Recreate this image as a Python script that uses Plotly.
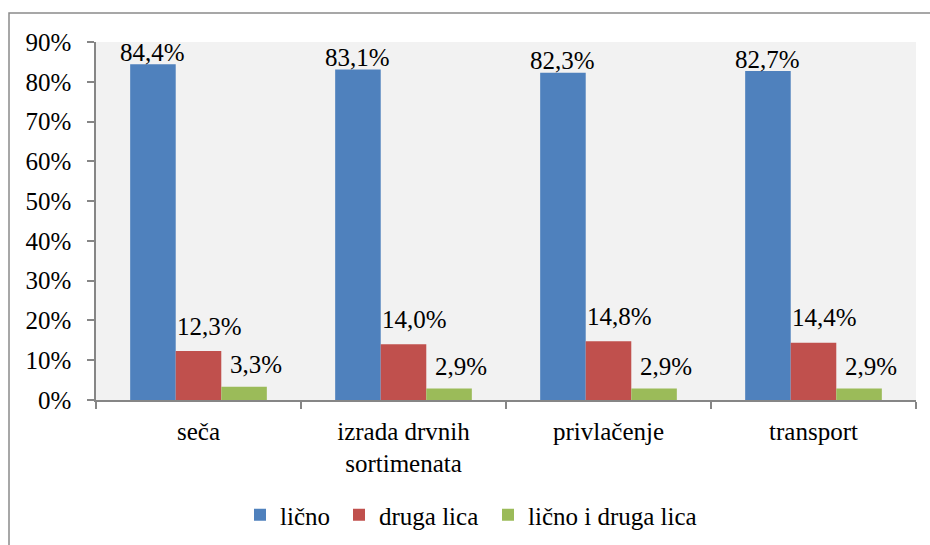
import plotly.graph_objects as go

categories = ["seča", "izrada drvnih<br>sortimenata", "privlačenje", "transport"]
series_names = ["lično", "druga lica", "lično i druga lica"]
licno = [84.4, 83.1, 82.3, 82.7]
druga_lica = [12.3, 14.0, 14.8, 14.4]
licno_i_druga = [3.3, 2.9, 2.9, 2.9]
tick_vals = [0, 10, 20, 30, 40, 50, 60, 70, 80, 90]
tick_text = ["0%", "10%", "20%", "30%", "40%", "50%", "60%", "70%", "80%", "90%"]

colors = ["#4F81BD", "#C0504D", "#9BBB59"]
legend_widths = [54, 104, None]
FONT = "Liberation Serif"
FS = 25
BARGAP = 1 / 3

all_series = [licno, druga_lica, licno_i_druga]
fig = go.Figure()
for name, vals, col, lw in zip(series_names, all_series, colors, legend_widths):
    fig.add_trace(go.Bar(
        name=name, x=categories, y=vals,
        marker=dict(color=col, line=dict(width=0)),
        legendwidth=lw,
    ))

label_dx = [0, 11, 12]
label_dy = [12, 25, 22]
bw = (1 - BARGAP) / 3
for k, vals in enumerate(all_series):
    for i, v in enumerate(vals):
        fig.add_annotation(
            x=i + (k - 1) * bw, y=v, xref="x", yref="y",
            text=f"{v:.1f}%".replace(".", ","),
            showarrow=False, xanchor="center", yanchor="middle",
            xshift=label_dx[k], yshift=label_dy[k],
            font=dict(family=FONT, size=FS, color="black"),
        )

L, R, T, B = 96, 916, 42, 400
W, H = R - L, B - T
def px_x(p):
    return (p - L) / W
def px_y(p):
    return (B - p) / H
fig.add_shape(type="rect", xref="paper", yref="paper",
              x0=px_x(9), x1=px_x(940), y0=px_y(13), y1=px_y(560),
              line=dict(color="#8a8a8a", width=1.5), fillcolor="rgba(0,0,0,0)",
              layer="below")

fig.update_layout(
    width=930, height=545,
    margin=dict(l=L, r=930 - R, t=T, b=545 - B, autoexpand=False),
    paper_bgcolor="white", plot_bgcolor="#F2F2F2",
    barmode="group", bargap=BARGAP, bargroupgap=0,
    font=dict(family=FONT, size=FS, color="black"),
    showlegend=True,
    legend=dict(orientation="h", x=px_x(240), xanchor="left", y=px_y(515), yanchor="middle",
                font=dict(family=FONT, size=FS), itemclick=False, bgcolor="rgba(0,0,0,0)",
                tracegroupgap=0, entrywidthmode="pixels"),
    xaxis=dict(type="category", showline=True, linecolor="#868686", linewidth=1.5,
               ticks="outside", tickson="boundaries", ticklen=7, tickcolor="#868686",
               tickwidth=1.5, showgrid=False, tickfont=dict(family=FONT, size=FS),
               ticklabelstandoff=8),
    yaxis=dict(range=[0, 90], tickmode="array", tickvals=tick_vals, ticktext=tick_text,
               showline=True,
               linecolor="#868686", linewidth=1.5, ticks="outside", ticklen=7,
               tickcolor="#868686", tickwidth=1.5, showgrid=False, zeroline=False,
               tickfont=dict(family=FONT, size=FS), ticklabelstandoff=11),
)

fig.write_html("out.html", config={"displayModeBar": False},
               post_script="document.body.style.margin='0';document.body.style.overflow='hidden';")
